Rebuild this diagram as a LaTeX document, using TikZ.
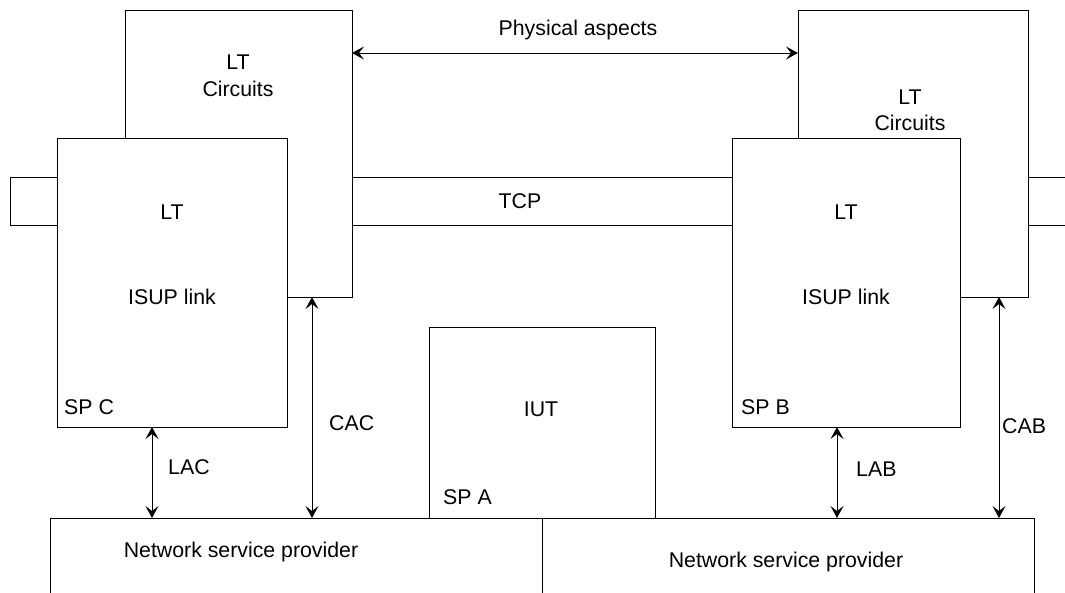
\documentclass[tikz,border=0pt]{standalone}
\usepackage{fontspec}
\setmainfont{Liberation Sans}
\usetikzlibrary{arrows.meta}
\begin{document}
\begin{tikzpicture}[x=1pt,y=-1pt,
  box/.style={draw=black,fill=white,line width=1pt,inner sep=0pt,outer sep=0pt,anchor=north west},
  lbl/.style={inner sep=0pt,font=\fontsize{21.3}{25}\selectfont},
  dbl/.style={line width=1pt,{Stealth[length=12pt,width=13pt,inset=5pt]}-{Stealth[length=12pt,width=13pt,inset=5pt]}},
  band/.style={line width=1pt}]
\useasboundingbox (0,0) rectangle (1065,592);
\clip (0,0) rectangle (1065,592);
% TCP band levels
\coordinate (tcpt) at (0,177);
\coordinate (tcpb) at (0,225);
\coordinate (rend) at (1070,0);
% boxes
\node[box,minimum width=227pt,minimum height=287pt] (ltcl) at (125,10) {};
\node[box,minimum width=230pt,minimum height=287pt] (ltcr) at (798,10) {};
\node[box,minimum width=47pt,minimum height=48pt] (tcpl) at (10,177) {};
\node[box,minimum width=230pt,minimum height=289pt] (isupl) at (57,138) {};
\node[box,minimum width=228pt,minimum height=289pt] (isupr) at (732,138) {};
\node[box,minimum width=226pt,minimum height=191pt] (iut) at (429,327) {};
\node[box,minimum width=492pt,minimum height=90pt] (nspl) at (50,518) {};
\node[box,minimum width=492pt,minimum height=90pt] (nspr) at (542,518) {};
% band lines
\draw[band] (ltcl.east |- tcpt) -- (isupr.west |- tcpt);
\draw[band] (ltcl.east |- tcpb) -- (isupr.west |- tcpb);
\draw[band] (ltcr.east |- tcpt) -- (rend |- tcpt);
\draw[band] (ltcr.east |- tcpb) -- (rend |- tcpb);
% arrow coordinates
\coordinate (pa) at (0,53);
\coordinate (lac) at (152,0);
\coordinate (cac) at (312,0);
\coordinate (lab) at (837,0);
\coordinate (cab) at (999,0);
\draw[dbl] (ltcl.east |- pa) -- (ltcr.west |- pa);
\draw[dbl] (isupl.south -| lac) -- (nspl.north -| lac);
\draw[dbl] (ltcl.south -| cac) -- (nspl.north -| cac);
\draw[dbl] (isupr.south -| lab) -- (nspr.north -| lab);
\draw[dbl] (ltcr.south -| cab) -- (nspr.north -| cab);
% labels
\node[lbl] (tpa) at (578,30) {Physical aspects};
\node[lbl] (tlt1) at (238,62) {LT};
\node[lbl] (tci1) at (238,89) {Circuits};
\node[lbl] (tlt2) at (910,97) {LT};
\node[lbl] (tci2) at (910,123) {Circuits};
\node[lbl] (tlt3) at (172,212) {LT};
\node[lbl] (tis1) at (172,297) {ISUP link};
\node[lbl] (tlt4) at (846,212) {LT};
\node[lbl] (tis2) at (846,297) {ISUP link};
\node[lbl] (ttcp) at (520,201) {TCP};
\node[lbl,anchor=west] (tspc) at (64,407) {SP C};
\node[lbl,anchor=west] (tspb) at (741,407) {SP B};
\node[lbl,anchor=west] (tspa) at (443,497) {SP A};
\node[lbl] (tiut) at (541,409) {IUT};
\node[lbl,anchor=west] (tcac) at (329,423) {CAC};
\node[lbl,anchor=west] (tlac) at (168,467) {LAC};
\node[lbl,anchor=west] (tlab) at (856,469) {LAB};
\node[lbl,anchor=west] (tcab) at (1002,426) {CAB};
\node[lbl] (tnsp1) at (241,552) {Network service provider};
\node[lbl] (tnsp2) at (786,562) {Network service provider};
\end{tikzpicture}
\end{document}
